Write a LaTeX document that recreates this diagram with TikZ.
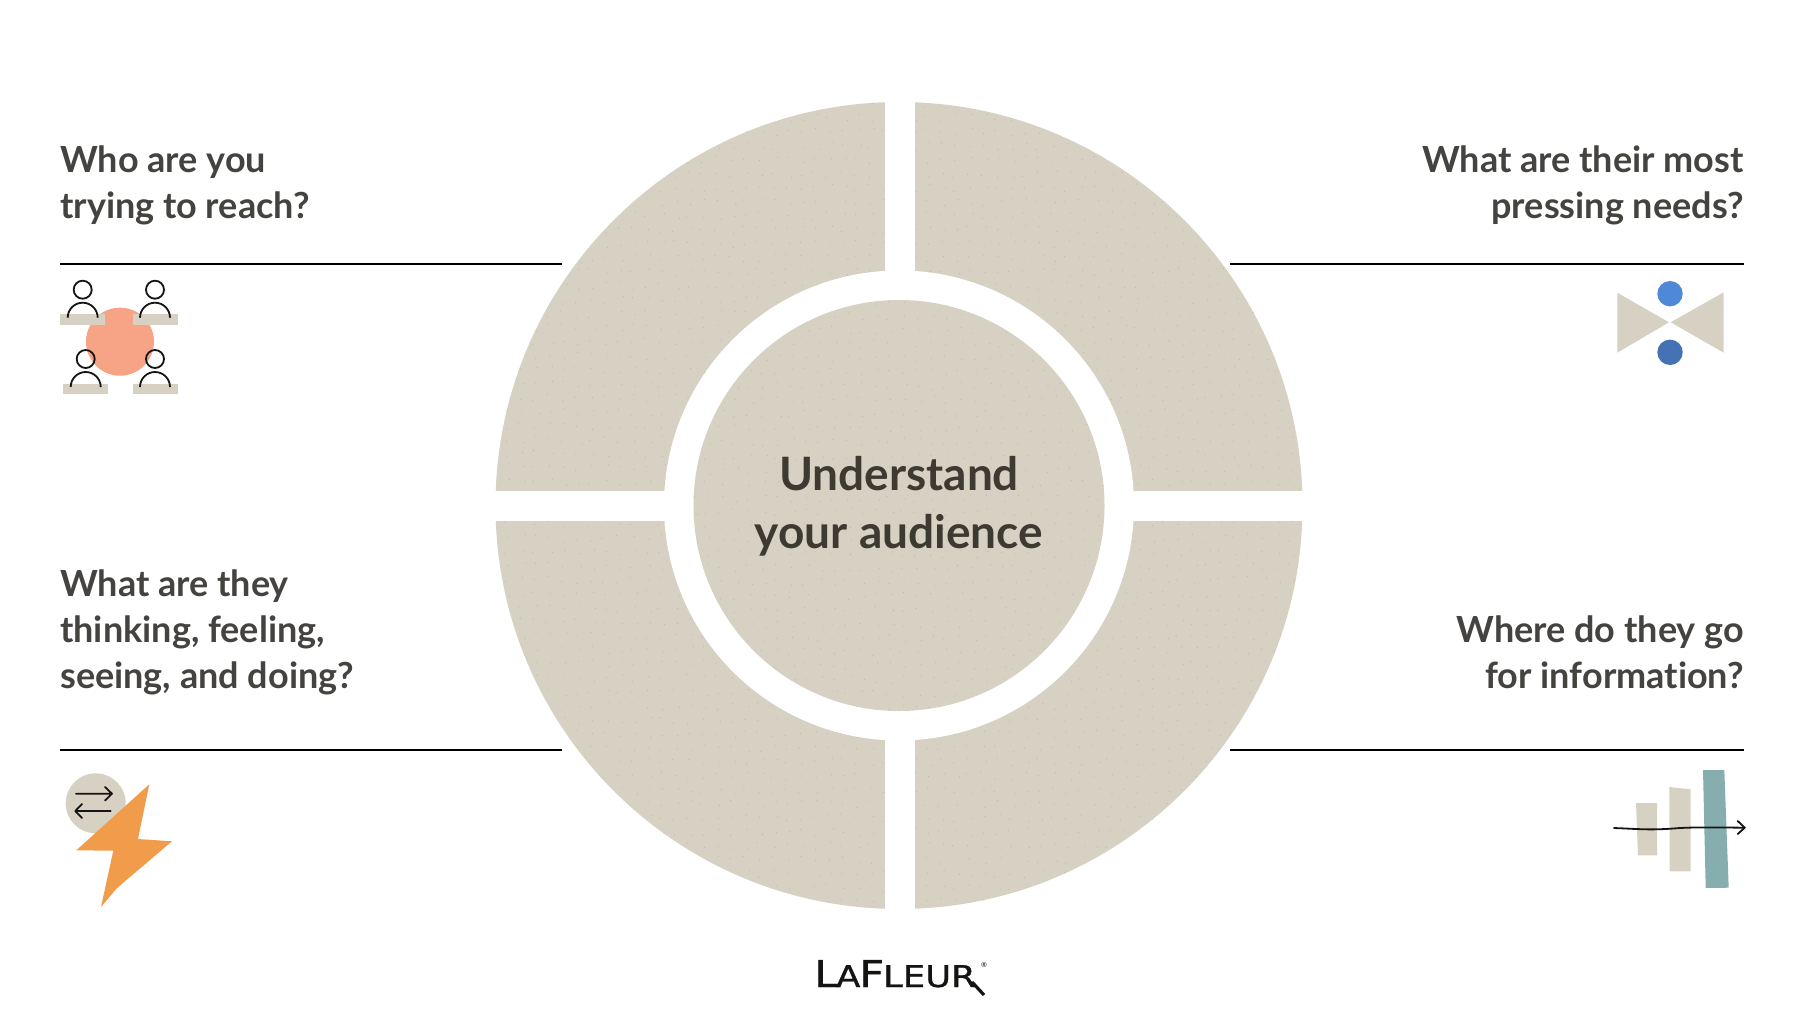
\documentclass[tikz,border=0pt]{standalone}
\usepackage{fontspec}
\usepackage{graphicx}
\setmainfont{Lato}[Ligatures=CommonOff]
\newfontfamily\logofont{DejaVu Sans}[FakeBold=0.8]
\definecolor{sand}{HTML}{D6D1C2}
\definecolor{speck}{HTML}{BDB8A6}
\definecolor{ink}{HTML}{444340}
\definecolor{inkdark}{HTML}{3D3A32}
\definecolor{salmon}{HTML}{F7A385}
\definecolor{bolt}{HTML}{F19C4B}
\definecolor{teal}{HTML}{86AEAE}
\definecolor{blueA}{HTML}{5088D8}
\definecolor{blueB}{HTML}{4472B4}
\definecolor{nearblack}{HTML}{141412}
\newcommand{\persona}[2]{%
  \draw[iconline] (#1,#2) circle (9);
  \draw[iconline] (#1-15,#2+28) arc[start angle=180,end angle=360,radius=15];
}
% sparse speckle texture on a lattice, jittered
\newcommand{\specks}[4]{%
  \pgfmathsetseed{7}%
  \foreach \sx in {#1,\the\numexpr#1+14\relax,...,#2}{%
    \foreach \sy in {#3,\the\numexpr#3+14\relax,...,#4}{%
      \pgfmathsetmacro{\jx}{\sx+rnd*8}%
      \pgfmathsetmacro{\jy}{\sy+rnd*8}%
      \fill[speck] (\jx,\jy) circle (0.6);
    }%
  }%
}
\tikzset{
  heading/.style={font=\fontsize{36}{46}\selectfont\bfseries, text=ink, inner sep=0pt},
  headL/.style={heading, anchor=north west, align=left},
  headR/.style={heading, anchor=north east, align=right},
  rule/.style={line width=1.7pt, black},
  iconline/.style={line width=1.8pt, nearblack},
}
\begin{document}
\begin{tikzpicture}[x=1pt,y=-1pt]
\useasboundingbox (0,0) rectangle (1804,1010);
\fill[white] (0,0) rectangle (1804,1010);
% wheel
\fill[sand] (899,505.5) circle (403.5);
\begin{scope}
\clip (899,505.5) circle (403.5);
\specks{490}{1310}{100}{910}
\end{scope}
\fill[white] (899,505.5) circle (235);
\fill[white] (884.5,90) rectangle (914.5,920);
\fill[white] (485,491) rectangle (1313,521);
\fill[sand] (899,505.5) circle (205.5);
\begin{scope}
\clip (899,505.5) circle (205.5);
\specks{690}{1105}{298}{712}
\end{scope}
\node[font=\fontsize{46}{58}\selectfont\bfseries, text=inkdark, align=center, inner sep=0pt] (centre) at (899,506) {Understand\\your audience};
% headings
\node[headL] (h1) at (60,145.5) {Who are you\\trying to reach?};
\node[headR] (h2) at (1744,145.5) {What are their most\\pressing needs?};
\node[headL] (h3) at (60,569.5) {What are they\\thinking, feeling,\\seeing, and doing?};
\node[headR] (h4) at (1744,615.5) {Where do they go\\for information?};
% rules
\draw[rule] (60,264) -- (562,264);
\draw[rule] (1230,264) -- (1744,264);
\draw[rule] (60,750) -- (562,750);
\draw[rule] (1230,750) -- (1744,750);
% icon 1
\fill[salmon] (120,341.7) circle (34);
\fill[sand] (60,314.3) rectangle (105,325);
\fill[sand] (132.7,314.3) rectangle (177.7,325);
\fill[sand] (63.3,384) rectangle (108.3,394.3);
\fill[sand] (132.7,384) rectangle (177.7,394.3);
\persona{82.7}{289.7}
\persona{155}{289.7}
\persona{85.7}{359}
\persona{155}{359}
% icon 2
\fill[sand] (95.7,803.3) circle (30);
\draw[iconline, line cap=round, line join=round] (76,793.7) -- (112,793.7) (105,787) -- (112,793.7) -- (105,800.5);
\draw[iconline, line cap=round, line join=round] (110.7,811) -- (75.3,811) (82,804) -- (75.3,811) -- (82,818);
\fill[bolt] (149.3,784.3) -- (138,839) -- (172,841.3) -- (116.7,888.3) -- (101,907) -- (113.3,850.7) -- (76.3,850.3) -- cycle;
% icon 3
\fill[sand] (1617.3,292.7) -- (1669,322.3) -- (1617.3,352.7) -- cycle;
\fill[sand] (1723.7,292.3) -- (1670.7,322.3) -- (1723.7,352.7) -- cycle;
\fill[blueA] (1670,293.7) circle (12.7);
\fill[blueB] (1670,352.3) circle (12.7);
% icon 4
\fill[sand] (1636,803) -- (1657,803) -- (1657,855.3) -- (1638,855.3) -- cycle;
\fill[sand] (1669.3,787) -- (1690.7,789.3) -- (1690.7,871.3) -- (1669.7,871.3) -- cycle;
\fill[teal] (1703,770) -- (1724.3,770) -- (1728.7,887.7) -- (1705.7,888) -- cycle;
\draw[iconline, line cap=round, line join=round] (1614,828) .. controls (1640,829) and (1650,830.5) .. (1680,828) .. controls (1700,827) and (1720,827.5) .. (1744.7,827.7);
\draw[iconline, line cap=round, line join=round] (1737.7,821) -- (1744.7,827.7) -- (1737.7,834);
% logo
\node[text=nearblack, inner sep=0pt, anchor=base west] (logo) at (814,987) {\scalebox{1.18}[1]{\logofont\fontsize{37}{37}\selectfont L\kern-2pt\fontsize{30}{30}\selectfont A\kern-1pt\fontsize{37}{37}\selectfont F\kern-1pt\fontsize{30}{30}\selectfont LEUR}};
\node[text=nearblack, inner sep=0pt, font=\fontsize{7}{7}\selectfont] (reg) at (984,965) {®};
\coordinate (tailA) at (972,982);
\coordinate (tailB) at (984,995);
\draw[line width=3.2pt, nearblack] (tailA) -- (tailB);
\end{tikzpicture}
\end{document}
